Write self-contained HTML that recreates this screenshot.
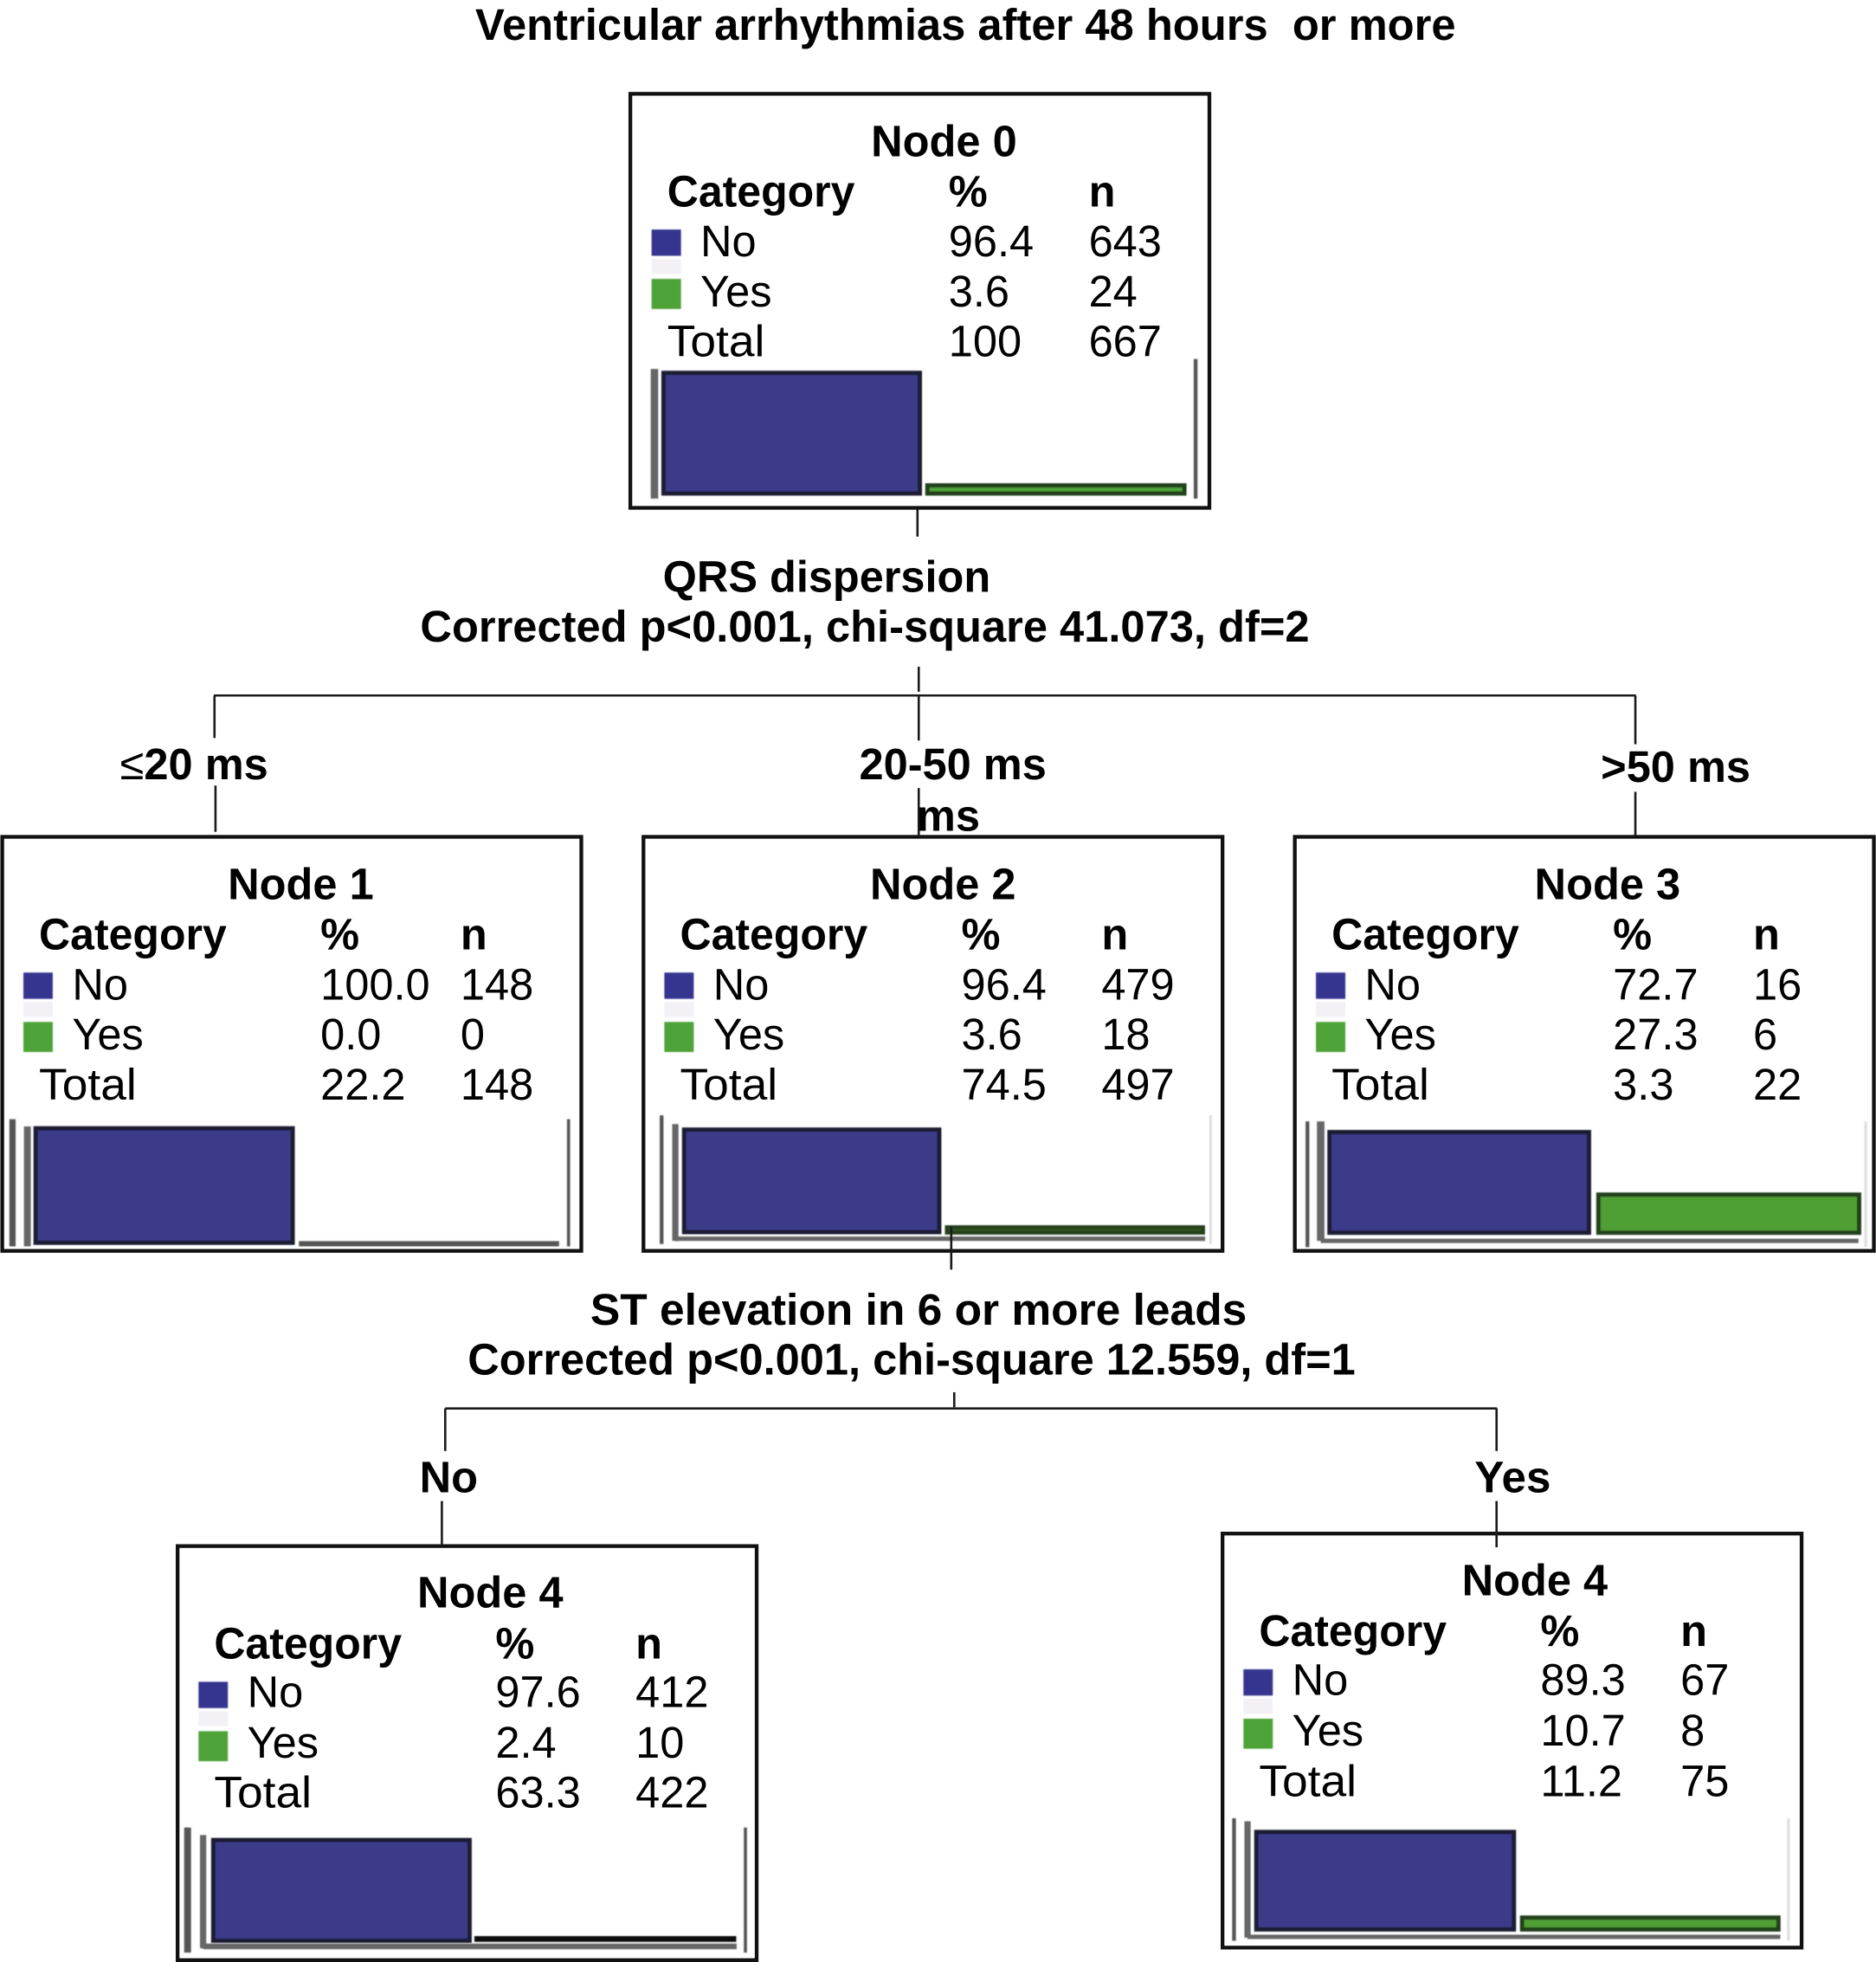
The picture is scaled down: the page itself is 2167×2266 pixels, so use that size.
<!DOCTYPE html>
<html lang="en">
<head>
<meta charset="utf-8">
<title>Ventricular arrhythmias decision tree</title>
<style>
  html, body { margin: 0; padding: 0; background: #fff; }
  svg { display: block; }
  text { font-family: "Liberation Sans", sans-serif; font-size: 35px; fill: #000; white-space: pre; }
  .b { font-weight: bold; }
  .ln { stroke: #1a1a1a; stroke-width: 1.8; fill: none; }
</style>
</head>
<body>
<svg id="chart" xmlns="http://www.w3.org/2000/svg" width="2167" height="2266" viewBox="0 0 1500 1568.5" preserveAspectRatio="none">
  <defs>
    <filter id="soft" filterUnits="userSpaceOnUse" x="0" y="0" width="1500" height="1568.5"><feGaussianBlur stdDeviation="0.45"/></filter>
  </defs>
  <rect x="0" y="0" width="1500" height="1568.5" fill="#fff"/>
  <text class="b" x="380" y="32" textLength="784" lengthAdjust="spacingAndGlyphs">Ventricular arrhythmias after 48 hours  or more</text>
  <g id="nodes"></g>
  <g>
    <line class="ln" x1="733.6" y1="407" x2="733.6" y2="429"/>
    <line class="ln" x1="734.6" y1="533" x2="734.6" y2="553"/>
    <line class="ln" x1="171" y1="556" x2="1308" y2="556"/>
    <line class="ln" x1="171.5" y1="556" x2="171.5" y2="590"/>
    <line class="ln" x1="172.3" y1="628" x2="172.3" y2="665"/>
    <line class="ln" x1="734.6" y1="556" x2="734.6" y2="592"/>
    <line class="ln" x1="734.6" y1="630" x2="734.6" y2="669"/>
    <line class="ln" x1="1307.6" y1="556" x2="1307.6" y2="595"/>
    <line class="ln" x1="1307.6" y1="633" x2="1307.6" y2="668"/>
    <line class="ln" x1="760.6" y1="981" x2="760.6" y2="1015"/>
    <line class="ln" x1="763" y1="1113" x2="763" y2="1125"/>
    <line class="ln" x1="356" y1="1126" x2="1197" y2="1126"/>
    <line class="ln" x1="356" y1="1126" x2="356" y2="1160"/>
    <line class="ln" x1="353.3" y1="1200" x2="353.3" y2="1236"/>
    <line class="ln" x1="1196.6" y1="1126" x2="1196.6" y2="1160"/>
    <line class="ln" x1="1196.6" y1="1200" x2="1196.6" y2="1237"/>
  </g>
  <text class="b" x="530" y="473" textLength="262" lengthAdjust="spacingAndGlyphs">QRS dispersion</text>
  <text class="b" x="336" y="513" textLength="711" lengthAdjust="spacingAndGlyphs">Corrected p&lt;0.001, chi-square 41.073, df=2</text>
  <text class="b" x="96" y="623"><tspan font-weight="normal">≤</tspan>20 ms</text>
  <text class="b" x="687" y="623">20-50 ms</text>
  <text class="b" x="733" y="664">ms</text>
  <text class="b" x="1280" y="625">&gt;50 ms</text>
  <text class="b" x="472" y="1059" textLength="525" lengthAdjust="spacingAndGlyphs">ST elevation in 6 or more leads</text>
  <text class="b" x="374" y="1099">Corrected p&lt;0.001, chi-square 12.559, df=1</text>
  <text class="b" x="335.5" y="1193">No</text>
  <text class="b" x="1179" y="1193" textLength="61" lengthAdjust="spacingAndGlyphs">Yes</text>
</svg>
<script>
const nodeNames = ["Node 0", "Node 1", "Node 2", "Node 3", "Node 4", "Node 4"];
const categories = ["No", "Yes"];
const pctNo = [96.4, 100.0, 96.4, 72.7, 97.6, 89.3];
const pctYes = [3.6, 0.0, 3.6, 27.3, 2.4, 10.7];
const countNo = [643, 148, 479, 16, 412, 67];
const countYes = [24, 0, 18, 6, 10, 8];
const pctTotal = ["100", "22.2", "74.5", "3.3", "63.3", "11.2"];
const countTotal = [667, 148, 497, 22, 422, 75];

/* panel geometry (not data) */
const panels = [
  {x: 504, y: 75, tx: 503.5, titleX: 754.8, rows: [50, 90, 130, 170, 210],
   l1: null,
   l2: {x: 523.3, w: 6, top: 295, bot: 398.6},
   right: {x: 956, w: 3, top: 287, bot: 398.6, c: "#555"}, base: null,
   barX: 530.5, noW: 205, yesX: 741.5, yesW: 205.5, barBot: 394.5, full: 100, yesBot: 394.5, yesFull: 180, yesFill: "#4ea337", yesStroke: "#23401e", yesSW: 3.4},
  {x: 1.8, y: 669, tx: 1.2, titleX: 240.5, rows: [50, 90, 130, 170, 210],
   l1: {x: 10, w: 5, top: 894.7, bot: 996.4},
   l2: {x: 21.9, w: 5.5, top: 900.5, bot: 996.4},
   right: {x: 454.6, w: 2.5, top: 894.7, bot: 996.4, c: "#555"}, base: null,
   barX: 28.5, noW: 205.5, yesX: 240.5, yesW: 205, barBot: 993.5, full: 91.5, yesBot: 994.9, yesFull: 92, yesFill: "#555", yesStroke: "#555", yesSW: 3},
  {x: 514.5, y: 669, tx: 513.7, titleX: 754, rows: [50, 90, 130, 170, 210],
   l1: {x: 529, w: 3, top: 891.6, bot: 994.5},
   l2: {x: 540, w: 5, top: 898.6, bot: 992},
   right: {x: 968, w: 2, top: 891.6, bot: 994.5, c: "#ddd"},
   base: {y: 990.3, w: 3.5, end: 963.6},
   barX: 547, noW: 204, yesX: 757, yesW: 205, barBot: 985, full: 85, yesBot: 985.5, yesFull: 125, yesFill: "#2f5520", yesStroke: "#26401c", yesSW: 3},
  {x: 1035.3, y: 669, tx: 1034.7, titleX: 1285.3, rows: [50, 90, 130, 170, 210],
   l1: {x: 1045.4, w: 3, top: 896.5, bot: 997},
   l2: {x: 1056, w: 6, top: 896.5, bot: 992},
   right: {x: 1491.8, w: 2, top: 896.5, bot: 997, c: "#ddd"},
   base: {y: 992, w: 3.4, end: 1486},
   barX: 1063, noW: 207.5, yesX: 1278, yesW: 208.5, barBot: 985.5, full: 110.7, yesBot: 985.5, yesFull: 111.7, yesFill: "#4f9f34", yesStroke: "#23401e", yesSW: 3.4},
  {x: 142, y: 1236, tx: 141.2, titleX: 392, rows: [49, 90, 128.5, 169, 209],
   l1: {x: 150, w: 5.5, top: 1461, bot: 1561},
   l2: {x: 162.4, w: 5, top: 1467, bot: 1557.5},
   right: {x: 596, w: 2.5, top: 1461, bot: 1561, c: "#555"},
   base: {y: 1556, w: 4.5, end: 589},
   barX: 170.5, noW: 205, yesX: 380.5, yesW: 207, barBot: 1551.5, full: 82.5, yesBot: 1551.2, yesFull: 92, yesFill: "#111", yesStroke: "#111", yesSW: 2.4},
  {x: 977.5, y: 1226, tx: 976.7, titleX: 1227.2, rows: [49.5, 90, 129, 169.5, 210],
   l1: {x: 986.7, w: 3, top: 1453.6, bot: 1551.5},
   l2: {x: 997.5, w: 5, top: 1456, bot: 1549},
   right: {x: 1430, w: 2, top: 1453.6, bot: 1551.5, c: "#ddd"},
   base: {y: 1548.4, w: 3.5, end: 1423.5},
   barX: 1004.5, noW: 206, yesX: 1217, yesW: 205, barBot: 1542.5, full: 87.3, yesBot: 1542.5, yesFull: 88.8, yesFill: "#4f9f34", yesStroke: "#23401e", yesSW: 3.4}
];
const MIN_BAR_H = 1.2;
const SVG_NS = "http://www.w3.org/2000/svg";
const nodesGroup = document.getElementById("nodes");

function yNoScale(p, pct) {
  return p.barBot - pct / 100 * p.full;
}

function yYesScale(p, pct) {
  return p.yesBot - Math.max(pct / 100 * p.yesFull, MIN_BAR_H);
}

function make(parent, tag, attrs, txt) {
  const el = document.createElementNS(SVG_NS, tag);
  for (const k in attrs) el.setAttribute(k, attrs[k]);
  if (txt !== undefined) el.textContent = txt;
  parent.appendChild(el);
  return el;
}

function addText(g, x, y, str, bold, name) {
  const t = make(g, "text", {x: x, y: y}, str);
  if (bold) t.setAttribute("class", "b");
  
  
  return t;
}

function addLine(g, x1, y1, x2, y2, color, w, name) {
  const l = make(g, "line", {x1: x1, y1: y1, x2: x2, y2: y2, stroke: color, "stroke-width": w, filter: "url(#soft)"});
  
  
  return l;
}

nodeNames.forEach(function (nm, i) {
  const p = panels[i];
  const g = make(nodesGroup, "g", {});
  
  

  const box = make(g, "rect", {x: p.x, y: p.y, width: 463, height: 331, fill: "#fff", stroke: "#111", "stroke-width": 3});
  
  

  const title = addText(g, p.titleX, p.y + p.rows[0], nm, true, 'node-title');
  title.setAttribute("text-anchor", "middle");

  const cx = p.tx + 30, lx = p.tx + 56.5, px = p.tx + 255, nx = p.tx + 367;
  const yCat = p.y + p.rows[1], yNo = p.y + p.rows[2], yYes = p.y + p.rows[3], yTot = p.y + p.rows[4];

  const catHeader = addText(g, cx, yCat, "Category", true, 'category-header');
  catHeader.setAttribute("textLength", "150");
  catHeader.setAttribute("lengthAdjust", "spacingAndGlyphs");
  addText(g, px, yCat, "%", true, 'percent-header');
  addText(g, nx, yCat, "n", true, 'count-header');

  addText(g, lx, yNo, categories[0], false, 'category-no-label');
  addText(g, px, yNo, pctNo[i].toFixed(1), false, 'category-no-percent');
  addText(g, nx, yNo, String(countNo[i]), false, 'category-no-count');

  addText(g, lx, yYes, categories[1], false, 'category-yes-label');
  addText(g, px, yYes, pctYes[i].toFixed(1), false, 'category-yes-percent');
  addText(g, nx, yYes, String(countYes[i]), false, 'category-yes-count');

  const totalLabel = addText(g, cx, yTot, "Total", false, 'total-label');
  totalLabel.setAttribute("textLength", "78");
  totalLabel.setAttribute("lengthAdjust", "spacingAndGlyphs");
  addText(g, px, yTot, pctTotal[i], false, 'total-percent');
  addText(g, nx, yTot, String(countTotal[i]), false, 'total-count');

  const swNo = make(g, "rect", {x: p.tx + 17.5, y: p.y + 108.5, width: 23.5, height: 21, fill: "#35358f", filter: "url(#soft)"});
  
  
  const ghost = make(g, "rect", {x: p.tx + 17.5, y: p.y + 132, width: 23.5, height: 12, fill: "#f3f1f6"});
  
  
  const swYes = make(g, "rect", {x: p.tx + 17.5, y: p.y + 148, width: 23.5, height: 24, fill: "#4ea337", filter: "url(#soft)"});
  
  

  if (p.l1 !== null) addLine(g, p.l1.x, p.l1.top, p.l1.x, p.l1.bot, "#555", p.l1.w, 'outer-axis-line');
  addLine(g, p.l2.x, p.l2.top, p.l2.x, p.l2.bot, "#666", p.l2.w, 'inner-axis-line');
  addLine(g, p.right.x, p.right.top, p.right.x, p.right.bot, p.right.c, p.right.w, 'right-axis-line');
  if (p.base !== null) addLine(g, p.l2.x, p.base.y, p.base.end, p.base.y, "#666", p.base.w, 'base-line');

  const topNo = yNoScale(p, pctNo[i]);
  const barNo = make(g, "rect", {x: p.barX, y: topNo, width: p.noW, height: p.barBot - topNo, fill: "#3b3a8a", stroke: "#1a1a33", "stroke-width": 3.4, filter: "url(#soft)"});
  
  

  const topYes = yYesScale(p, pctYes[i]);
  const barYes = make(g, "rect", {x: p.yesX, y: topYes, width: p.yesW, height: p.yesBot - topYes, fill: p.yesFill, stroke: p.yesStroke, "stroke-width": p.yesSW, filter: "url(#soft)"});
  
  
});
</script>
</body>
</html>
